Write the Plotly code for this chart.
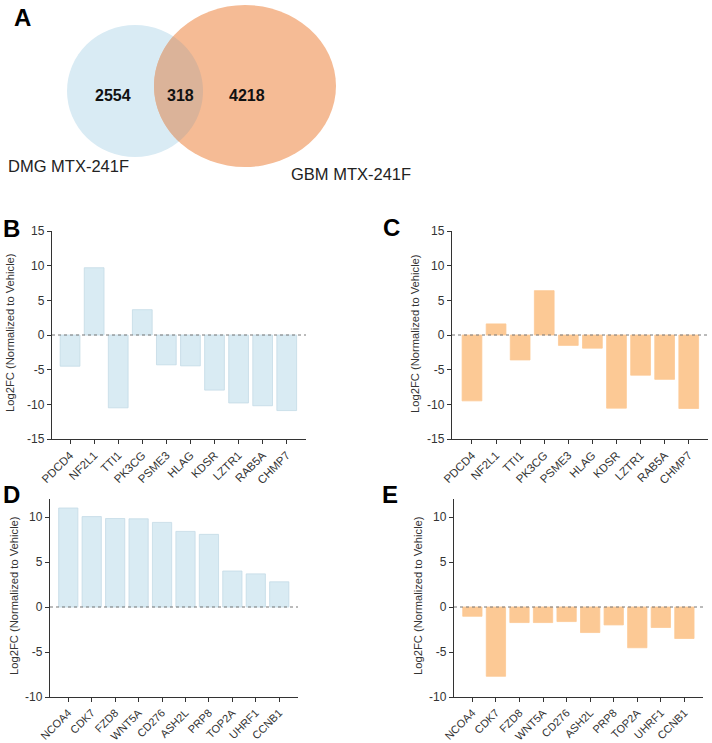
import numpy as np
import plotly.graph_objects as go

W, H = 712, 743

# ---------------- data ----------------
venn_labels = ["DMG MTX-241F", "GBM MTX-241F"]
venn_counts = [2554, 318, 4218]  # DMG only, overlap, GBM only

genes_bc = ["PDCD4", "NF2L1", "TTI1", "PK3CG", "PSME3", "HLAG", "KDSR", "LZTR1", "RAB5A", "CHMP7"]
dmg_bc = [-4.5, 9.7, -10.5, 3.65, -4.3, -4.45, -7.95, -9.8, -10.2, -10.9]
gbm_bc = [-9.5, 1.6, -3.6, 6.4, -1.5, -1.9, -10.55, -5.8, -6.4, -10.6]

genes_de = ["NCOA4", "CDK7", "FZD8", "WNT5A", "CD276", "ASH2L", "PRP8", "TOP2A", "UHRF1", "CCNB1"]
dmg_de = [11.0, 10.05, 9.83, 9.8, 9.4, 8.4, 8.07, 4.0, 3.68, 2.8]
gbm_de = [-1.03, -7.7, -1.73, -1.73, -1.62, -2.84, -1.99, -4.53, -2.28, -3.5]

ytitle = "Log2FC (Normalized to Vehicle)"

BLUE = "#d9ebf3"
BLUE_EDGE = "#c4dbe6"
ORANGE_BAR = "#fcc995"
ORANGE_V = "#f5bb95"
LENS = "#dbb399"
AXC = "#333333"
FONT = "Arial, Liberation Sans, sans-serif"


def px(x):
    return x / W


def py(y):
    return 1 - y / H


fig = go.Figure()

# panel geometry (pixels): x0, x1, ytop, ybottom, y-range, ticks
panels = [
    dict(ax="", genes=genes_bc, vals=dmg_bc, color=BLUE, edge=BLUE_EDGE, tx=10, xf=11.5,
         x0=52, x1=306, yt=231, yb=439, yr=[-15, 15], tv=[-15, -10, -5, 0, 5, 10, 15], xr=[-0.75, 9.8]),
    dict(ax="2", genes=genes_bc, vals=gbm_bc, color=ORANGE_BAR, edge=ORANGE_BAR, tx=415, xf=11.5,
         x0=452, x1=708, yt=231, yb=439, yr=[-15, 15], tv=[-15, -10, -5, 0, 5, 10, 15], xr=[-0.83, 9.8]),
    dict(ax="3", genes=genes_de, vals=dmg_de, color=BLUE, edge=BLUE_EDGE, tx=14, xf=11,
         x0=50, x1=298, yt=499, yb=697, yr=[-10, 12], tv=[-10, -5, 0, 5, 10], xr=[-0.78, 9.8]),
    dict(ax="4", genes=genes_de, vals=gbm_de, color=ORANGE_BAR, edge=ORANGE_BAR, tx=418, xf=11,
         x0=454, x1=703, yt=499, yb=697, yr=[-10, 12], tv=[-10, -5, 0, 5, 10], xr=[-0.78, 9.79]),
]

shapes = []
annotations = []

for p in panels:
    xa = "x" + p["ax"]
    ya = "y" + p["ax"]
    fig.add_trace(go.Bar(
        x=p["genes"], y=p["vals"], xaxis=xa, yaxis=ya,
        marker=dict(color=p["color"], line=dict(color=p["edge"], width=0.8)),
        width=0.82, showlegend=False, hoverinfo="x+y",
    ))
    axis_common = dict(showgrid=False, zeroline=False, showline=True, linecolor=AXC, linewidth=1.3,
                       ticks="outside", tickwidth=1.2, tickcolor=AXC, automargin=False)
    fig.update_layout(**{
        ("xaxis" + p["ax"]): dict(domain=[px(p["x0"]), px(p["x1"])], anchor=ya, type="category",
                                  range=p["xr"], tickangle=-45, ticklen=4,
                                  tickfont=dict(family=FONT, size=p["xf"], color=AXC), **axis_common),
        ("yaxis" + p["ax"]): dict(domain=[py(p["yb"]), py(p["yt"])], anchor=xa, range=p["yr"],
                                  tickvals=p["tv"], ticktext=[str(v) for v in p["tv"]], ticklen=4,
                                  tickfont=dict(family=FONT, size=12, color=AXC), **axis_common),
    })
    # dotted zero line
    shapes.append(dict(type="line", xref=xa + " domain", yref=ya, x0=0, x1=1, y0=0, y1=0,
                       line=dict(color="#777777", width=1, dash="dot"), layer="above"))
    # y-axis title
    annotations.append(dict(text=ytitle, xref="paper", yref="paper",
                            x=px(p["tx"]), y=py((p["yt"] + p["yb"]) / 2 - 2),
                            textangle=-90, showarrow=False, xanchor="center", yanchor="middle",
                            font=dict(family=FONT, size=11.2, color=AXC)))

# ---------------- Venn ----------------
bc = (135.0, 91.0, 68.0, 66.0)   # cx, cy, rx, ry (pixels)
oc = (245.0, 86.0, 91.0, 81.0)

for (cx, cy, rx, ry), col in [(bc, "#d9ebf4"), (oc, ORANGE_V)]:
    shapes.append(dict(type="circle", xref="paper", yref="paper",
                       x0=px(cx - rx), x1=px(cx + rx), y0=py(cy + ry), y1=py(cy - ry),
                       fillcolor=col, line=dict(width=0), layer="below"))


def inside(x, y, e):
    cx, cy, rx, ry = e
    return ((x - cx) / rx) ** 2 + ((y - cy) / ry) ** 2 <= 1


t1 = np.linspace(-np.pi, np.pi, 1441)
bxs = bc[0] + bc[2] * np.cos(t1)
bys = bc[1] + bc[3] * np.sin(t1)
m1 = inside(bxs, bys, oc)
t2 = np.linspace(0, 2 * np.pi, 1441)
oxs = oc[0] + oc[2] * np.cos(t2)
oys = oc[1] + oc[3] * np.sin(t2)
m2 = inside(oxs, oys, bc)
pts = list(zip(bxs[m1], bys[m1])) + list(zip(oxs[m2], oys[m2]))
path = "M " + " L ".join(f"{px(x):.5f},{py(y):.5f}" for x, y in pts) + " Z"
shapes.append(dict(type="path", xref="paper", yref="paper", path=path,
                   fillcolor=LENS, line=dict(width=0), layer="below"))

count_pos = [(113, 96), (180, 96), (247, 96)]
for (x, y), c in zip(count_pos, venn_counts):
    annotations.append(dict(text=f"<b>{c}</b>", xref="paper", yref="paper", x=px(x), y=py(y),
                            showarrow=False, xanchor="center", yanchor="middle",
                            font=dict(family=FONT, size=16, color="#111111")))
for (x, y), t in zip([(68, 166), (351, 174)], venn_labels):
    annotations.append(dict(text=t, xref="paper", yref="paper", x=px(x), y=py(y),
                            showarrow=False, xanchor="center", yanchor="middle",
                            font=dict(family=FONT, size=16.5, color="#222222")))

# panel letters
for (x, y), t in zip([(22, 18), (11, 228), (391, 227), (11, 495), (390, 494)], "ABCDE"):
    annotations.append(dict(text=f"<b>{t}</b>", xref="paper", yref="paper", x=px(x), y=py(y),
                            showarrow=False, xanchor="center", yanchor="middle",
                            font=dict(family=FONT, size=24, color="#000000")))

fig.update_layout(
    width=W, height=H, margin=dict(l=0, r=0, t=0, b=0),
    template="none", paper_bgcolor="white", plot_bgcolor="rgba(0,0,0,0)",
    bargap=0.18, showlegend=False,
    shapes=shapes, annotations=annotations,
    font=dict(family=FONT),
)

fig.write_html("out.html")
